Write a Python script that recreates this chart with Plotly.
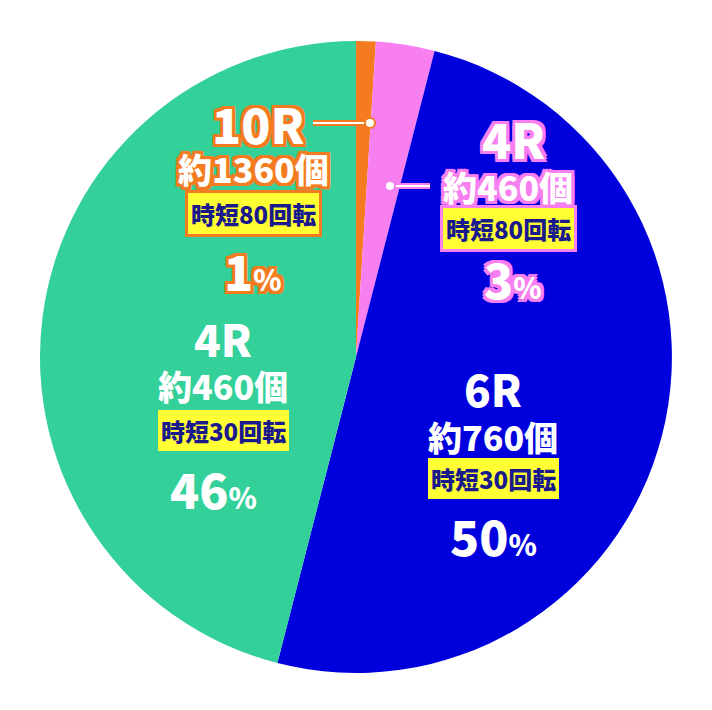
import plotly.graph_objects as go

labels = ["10R 約1360個", "4R 約460個 (時短80)", "6R 約760個", "4R 約460個 (時短30)"]
values = [1, 3, 50, 46]
colors = ["#f47b20", "#f77ff0", "#0000dd", "#33d09a"]

fig = go.Figure(go.Pie(
    labels=labels, values=values, sort=False, direction="clockwise", rotation=0,
    marker=dict(colors=colors, line=dict(width=0)), textinfo="none", hoverinfo="label+percent",
    domain=dict(x=[32/712, 664/712], y=[44/710, 678/710]), showlegend=False))

F = "Noto Sans CJK JP"
def outline(c, w=3):
    return ", ".join(f"{dx}px {dy}px 0 {c}" for dx in (-w, 0, w) for dy in (-w, 0, w) if dx or dy)

ann = []
def txt(x, y, t, size, color="white", ol=None):
    ann.append(dict(x=x/712, y=1-y/710, xref="paper", yref="paper", text=t, showarrow=False,
                    xanchor="center", yanchor="middle",
                    font=dict(family=F, size=size, color=color, weight=900,
                              shadow=outline(ol) if ol else "none")))
def box(x, y, t, border):
    ann.append(dict(x=x/712, y=1-y/710, xref="paper", yref="paper", text=t, showarrow=False,
                    xanchor="center", yanchor="middle",
                    font=dict(family=F, size=24, color="#1a1a8c", weight=900),
                    bgcolor="#ffff33", bordercolor=border, borderwidth=3, borderpad=3))
pct = lambda n: f"{n}<span style='font-size:60%'>%</span>"

txt(250, 115, "10R", 48, ol="#f47b20")
txt(245, 160, "約1360個", 34, ol="#f47b20")
box(245, 205, "時短80回転", "#f47b20")
txt(245, 262, pct(1), 48, ol="#f47b20")

txt(505, 130, "4R", 48, ol="#f77ff0")
txt(500, 178, "約460個", 34, ol="#f77ff0")
box(500, 220, "時短80回転", "#f77ff0")
txt(505, 270, pct(3), 48, ol="#f77ff0")

txt(485, 380, "6R", 44)
txt(485, 428, "約760個", 34)
box(485, 470, "時短30回転", "#0000dd")
txt(485, 527, pct(50), 48)

txt(215, 330, "4R", 44)
txt(215, 378, "約460個", 34)
box(215, 422, "時短30回転", "#33d09a")
txt(205, 480, pct(46), 48)

shapes = []
def leader(x0, x1, y, dotx, col):
    shapes.append(dict(type="line", xref="paper", yref="paper", x0=x0/712, x1=x1/712,
                       y0=1-y/710, y1=1-y/710, line=dict(color=col, width=6)))
    shapes.append(dict(type="line", xref="paper", yref="paper", x0=x0/712, x1=x1/712,
                       y0=1-y/710, y1=1-y/710, line=dict(color="white", width=2)))
    shapes.append(dict(type="circle", xref="paper", yref="paper", x0=(dotx-5)/712, x1=(dotx+5)/712,
                       y0=1-(y+5)/710, y1=1-(y-5)/710, fillcolor="white", line=dict(color=col, width=2)))
leader(305, 362, 115, 362, "#f47b20")
leader(382, 422, 178, 382, "#f77ff0")

fig.update_layout(width=712, height=710, margin=dict(l=0, r=0, t=0, b=0),
                  paper_bgcolor="white", annotations=ann, shapes=shapes)
fig.write_html("out.html")
